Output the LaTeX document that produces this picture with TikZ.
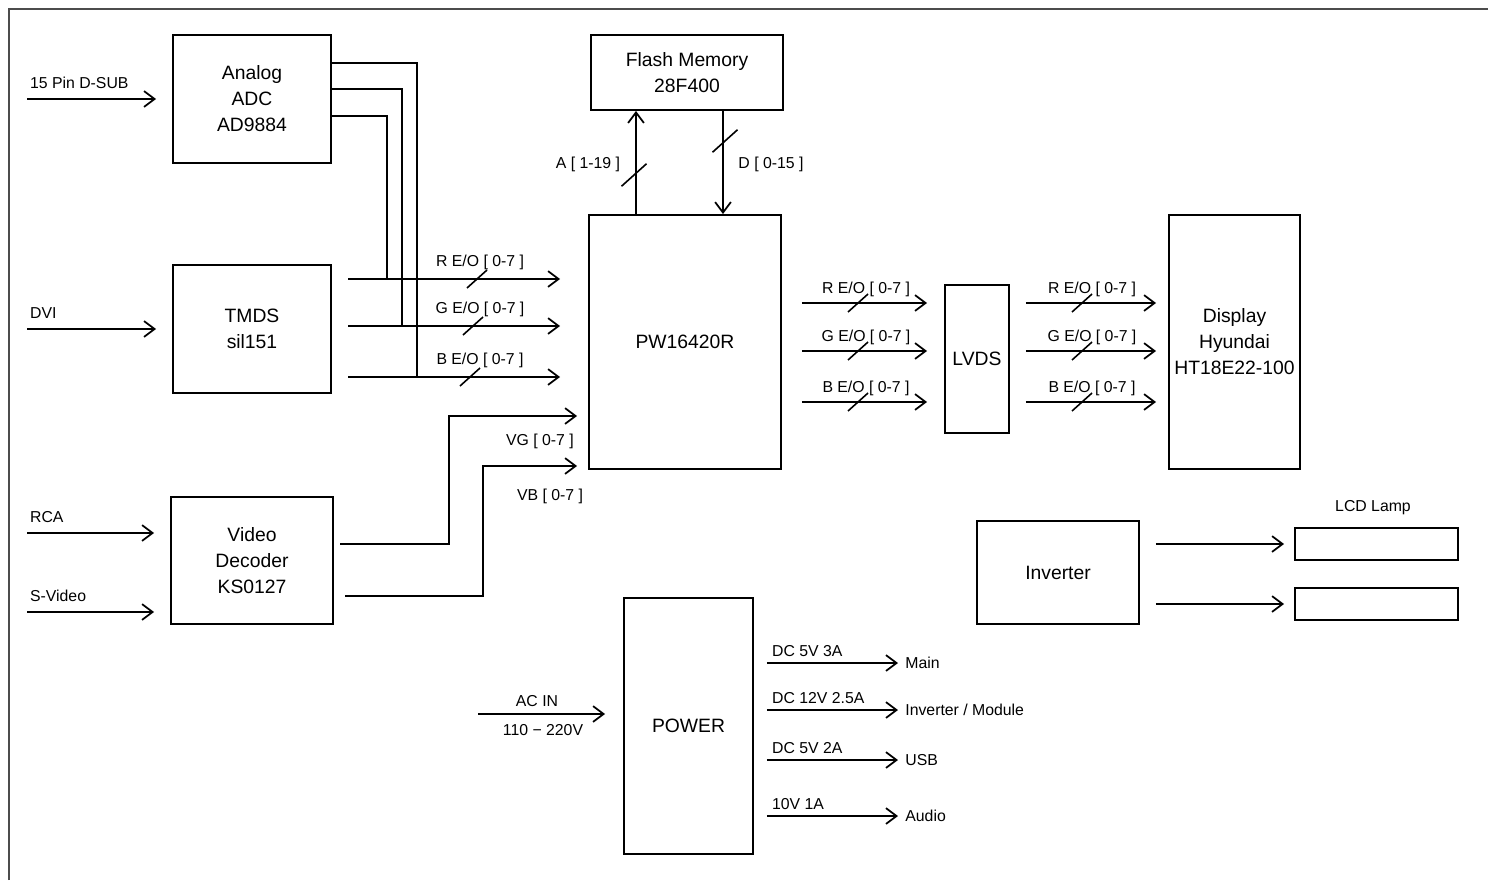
\documentclass[tikz,border=0pt]{standalone}
\usepackage{fontspec}
\setmainfont{Liberation Sans}
\usetikzlibrary{arrows.meta}

\begin{document}
\begin{tikzpicture}[x=0.02cm,y=-0.02cm,
 blk/.style={draw,line width=1.1pt,inner sep=0pt,align=center,font=\fontsize{11}{14.8}\selectfont},
 lbl/.style={inner sep=1pt,font=\fontsize{9}{10}\selectfont},
 sig/.style={line width=1.1pt,-{Straight Barb[length=6pt,width=9pt,line width=1pt]}},
 wire/.style={line width=1.1pt},
 into/.style={shorten >=3.2mm},
 bus/.pic={\draw[line width=0.9pt] (-10,9)--(10,-9);}]
\path[use as bounding box] (0,0) rectangle (1488,880);
\draw[black!70,line width=1.6pt] (9,880) -- (9,9) -- (1488,9);

% blocks
\node[blk,minimum width=3.16cm,minimum height=2.56cm] (adc) at (252,99) {Analog\\ADC\\AD9884};
\node[blk,minimum width=3.16cm,minimum height=2.56cm] (tmds) at (252,329) {TMDS\\sil151};
\node[blk,minimum width=3.24cm,minimum height=2.54cm] (vdec) at (252,560.5) {Video\\Decoder\\KS0127};
\node[blk,minimum width=3.84cm,minimum height=1.5cm] (flash) at (687,72.5) {Flash Memory\\28F400};
\node[blk,minimum width=3.84cm,minimum height=5.08cm] (pw) at (685,342) {PW16420R};
\node[blk,minimum width=1.28cm,minimum height=2.96cm] (lvds) at (977,359) {LVDS};
\node[blk,minimum width=2.62cm,minimum height=5.08cm] (disp) at (1234.5,342) {Display\\Hyundai\\HT18E22-100};
\node[blk,minimum width=3.24cm,minimum height=2.06cm] (inv) at (1058,572.5) {Inverter};
\node[blk,minimum width=3.26cm,minimum height=0.64cm] (lamp1) at (1376.5,544) {};
\node[blk,minimum width=3.26cm,minimum height=0.64cm] (lamp2) at (1376.5,604) {};
\node[lbl] (lampl) at (1373,508) {LCD Lamp};
\node[blk,minimum width=2.58cm,minimum height=5.12cm] (power) at (688.5,726) {POWER};

% inputs on the left
\foreach \n/\y/\t/\b in {dsub/99/15 Pin D-SUB/adc, dvi/329/DVI/tmds, rca/533/RCA/vdec, svid/612/S-Video/vdec} {
 \coordinate (\n) at (27,\y);
 \node[lbl,anchor=west] (\n-l) at (28,\y-16) {\t};
 \draw[sig,into] (\n) -- (\b.west |- \n);
}

% ADC outputs join the R/G/B bus
\coordinate (jr) at (387,279);
\coordinate (jg) at (402,326);
\coordinate (jb) at (417,377);
\draw[wire] (adc.east) ++(0,-36) -| (jb);
\draw[wire] (adc.east) ++(0,-10) -| (jg);
\draw[wire] (adc.east) ++(0,17) -| (jr);
\foreach \c/\y/\m in {R/279/477, G/326/473, B/377/470} {
 \coordinate (in\c) at (348,\y);
 \draw[sig,shorten >=5.6mm] (in\c) -- (pw.west |- in\c);
 \pic at (\m,\y) {bus};
 \node[lbl] (\c-in) at (480,\y-17) {\c\ E/O [ 0-7 ]};
}

% video decoder outputs
\coordinate (vg0) at (340,544);
\coordinate (vgk) at (449,416);
\draw[sig,shorten >=2.2mm] (vg0) -| (vgk) -- (pw.west |- vgk);
\coordinate (vb0) at (345,596);
\coordinate (vbk) at (483,466);
\draw[sig,shorten >=2.2mm] (vb0) -| (vbk) -- (pw.west |- vbk);
\node[lbl] (vgl) at (540,441) {VG [ 0-7 ]};
\node[lbl] (vbl) at (550,496) {VB [ 0-7 ]};

% flash memory buses
\coordinate (adr) at (pw.north -| 636,0);
\draw[sig] (adr) -- (adr |- flash.south);
\coordinate (dat) at (flash.south -| 723,0);
\draw[sig] (dat) -- (dat |- pw.north);
\pic[scale=1.25] at (634,175) {bus};
\pic[scale=1.25] at (725,141) {bus};
\node[lbl] (adrl) at (588,164) {A [ 1-19 ]};
\node[lbl] (datl) at (771,164) {D [ 0-15 ]};

% PW16420R -> LVDS -> display
\foreach \c/\y in {R/303, G/351, B/402} {
 \coordinate (o\c) at (pw.east |- 0,\y);
 \draw[sig,shorten <=4mm,shorten >=3.4mm] (o\c) -- (o\c -| lvds.west);
 \pic at (858,\y) {bus};
 \node[lbl] (\c-o) at (866,\y-14) {\c\ E/O [ 0-7 ]};
 \coordinate (p\c) at (lvds.east |- 0,\y);
 \draw[sig,shorten <=3.2mm,shorten >=2.4mm] (p\c) -- (p\c -| disp.west);
 \pic at (1082,\y) {bus};
 \node[lbl] (\c-p) at (1092,\y-14) {\c\ E/O [ 0-7 ]};
}

% inverter -> lamps
\foreach \l in {lamp1,lamp2}
 \draw[sig,shorten <=3.2mm,shorten >=2mm] (inv.east |- \l.west) -- (\l.west);

% power supply
\coordinate (ac) at (478,714);
\draw[sig,shorten >=3.6mm] (ac) -- (power.west |- ac);
\node[lbl] (acl) at (537,701) {AC IN};
\node[lbl] (acv) at (543,730) {110 − 220V};
\foreach \n/\y/\v/\d in {pmain/663/DC 5V 3A/Main, pmod/710/DC 12V 2.5A/{Inverter / Module}, pusb/760/DC 5V 2A/USB, paud/816/10V 1A/Audio} {
 \node[lbl,anchor=west,inner xsep=4pt] (\n) at (898,\y) {\d};
 \draw[sig,shorten <=2.6mm] (power.east |- \n.west) -- (\n.west);
 \node[lbl,anchor=west] (\n-v) at (770,\y-12) {\v};
}
\end{tikzpicture}
\end{document}
